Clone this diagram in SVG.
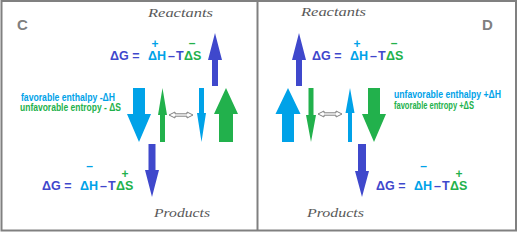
<svg xmlns="http://www.w3.org/2000/svg" width="519" height="232" viewBox="0 0 519 232">
<style>
.frame{fill:none;stroke:#808080;stroke-width:2}
.db{fill:#3f48cc}
.lb{fill:#00a2e8}
.gr{fill:#22b14c}
.eq{font-family:"Liberation Sans",Arial,sans-serif;font-weight:bold;font-size:12.5px}
.sign{font-family:"Liberation Sans",Arial,sans-serif;font-weight:bold;font-size:12px;text-anchor:middle}
.lbl{font-family:"Liberation Sans",Arial,sans-serif;font-weight:bold;font-size:10px}
.script{font-family:"Liberation Serif","Times New Roman",serif;font-style:italic;font-size:12px;fill:#595959}
.letter{font-family:"Liberation Sans",Arial,sans-serif;font-weight:bold;font-size:15px;fill:#7f7f7f}
.dbl{fill:#ffffff;stroke:#808080;stroke-width:1}
</style>
<g id="frame">
<rect class="frame" x="1.5" y="1" width="514.5" height="229.5"/>
<line class="frame" x1="257.5" y1="1" x2="257.5" y2="230.5"/>
</g>
<g id="panel-C">
<text class="letter" x="17" y="29.5">C</text>
<text class="script" x="148" y="17" textLength="65" lengthAdjust="spacingAndGlyphs">Reactants</text>
<text class="script" x="154" y="217" textLength="56" lengthAdjust="spacingAndGlyphs">Products</text>
<g id="eq-C-top">
<text class="eq"><tspan class="db" x="110" y="60">ΔG =</tspan><tspan class="lb" x="148" y="60">ΔH</tspan><tspan class="db" x="168" y="60">–</tspan><tspan class="db" x="176" y="60">T</tspan><tspan class="gr" x="184" y="60">ΔS</tspan></text>
<text class="sign lb" x="155" y="47.5">+</text>
<text class="sign gr" x="192" y="46.5">–</text>
</g>
<g id="eq-C-bottom">
<text class="eq"><tspan class="db" x="42" y="190">ΔG =</tspan><tspan class="lb" x="80" y="190">ΔH</tspan><tspan class="db" x="100" y="190">–</tspan><tspan class="db" x="108" y="190">T</tspan><tspan class="gr" x="116" y="190">ΔS</tspan></text>
<text class="sign lb" x="89.5" y="169.5">–</text>
<text class="sign gr" x="125" y="177.5">+</text>
</g>
<text class="lbl lb" x="21" y="101" textLength="94" lengthAdjust="spacingAndGlyphs">favorable enthalpy -ΔH</text>
<text class="lbl gr" x="20" y="110.5" textLength="101" lengthAdjust="spacingAndGlyphs">unfavorable entropy  - ΔS</text>
</g>
<g id="panel-D">
<text class="letter" x="482" y="29.5">D</text>
<text class="script" x="301" y="16" textLength="65" lengthAdjust="spacingAndGlyphs">Reactants</text>
<text class="script" x="307" y="217" textLength="57" lengthAdjust="spacingAndGlyphs">Products</text>
<g id="eq-D-top">
<text class="eq"><tspan class="db" x="312" y="60">ΔG =</tspan><tspan class="lb" x="350" y="60">ΔH</tspan><tspan class="db" x="370" y="60">–</tspan><tspan class="db" x="378" y="60">T</tspan><tspan class="gr" x="386" y="60">ΔS</tspan></text>
<text class="sign lb" x="357" y="47.5">+</text>
<text class="sign gr" x="394" y="46.5">–</text>
</g>
<g id="eq-D-bottom">
<text class="eq"><tspan class="db" x="376" y="190">ΔG =</tspan><tspan class="lb" x="414" y="190">ΔH</tspan><tspan class="db" x="434" y="190">–</tspan><tspan class="db" x="442" y="190">T</tspan><tspan class="gr" x="450" y="190">ΔS</tspan></text>
<text class="sign lb" x="423.5" y="169.5">–</text>
<text class="sign gr" x="459" y="177.5">+</text>
</g>
<text class="lbl lb" x="394" y="98" textLength="107" lengthAdjust="spacingAndGlyphs">unfavorable enthalpy +ΔH</text>
<text class="lbl gr" x="394" y="108.5" textLength="80" lengthAdjust="spacingAndGlyphs">favorable entropy +ΔS</text>
</g>
<g id="connectors">
<!-- panel C -->
<polygon class="db" points="215,33 222,60 218,60 218,86 212,86 212,60 208,60"/>
<polygon class="lb" points="133,88 145,88 145,114 151,114 139,142 127,114 133,114"/>
<polygon class="gr" points="162.5,88 167,115 165,115 165,142 160,142 160,115 158,115"/>
<path class="dbl" d="M169,115 L175,112 L175,113.8 L187,113.8 L187,112 L193,115 L187,118 L187,116.2 L175,116.2 L175,118 Z"/>
<polygon class="lb" points="199,88 204,88 204,113 206,113 201.5,142 197,113 199,113"/>
<polygon class="gr" points="226,88 238,114 233,114 233,142 219,142 219,114 214,114"/>
<polygon class="db" points="148.5,144 155.5,144 155.5,170 159,170 152,197 145,170 148.5,170"/>
<!-- panel D -->
<polygon class="db" points="299,33 306,60 302,60 302,86 296,86 296,60 292,60"/>
<polygon class="lb" points="288,88 300.5,114 294,114 294,142 282,142 282,114 275.5,114"/>
<polygon class="gr" points="308.5,88 313.5,88 313.5,115 316,115 311,142 306,115 308.5,115"/>
<path class="dbl" d="M318,114 L324,111 L324,112.8 L336,112.8 L336,111 L342,114 L336,117 L336,115.2 L324,115.2 L324,117 Z"/>
<polygon class="lb" points="350,88 354.5,113 352,113 352,142 348,142 348,113 345.5,113"/>
<polygon class="gr" points="368,88 380,88 380,114 386,114 374,142 362,114 368,114"/>
<polygon class="db" points="358,144 366,144 366,171 369,171 362,197 355,171 358,171"/>
</g>
</svg>
